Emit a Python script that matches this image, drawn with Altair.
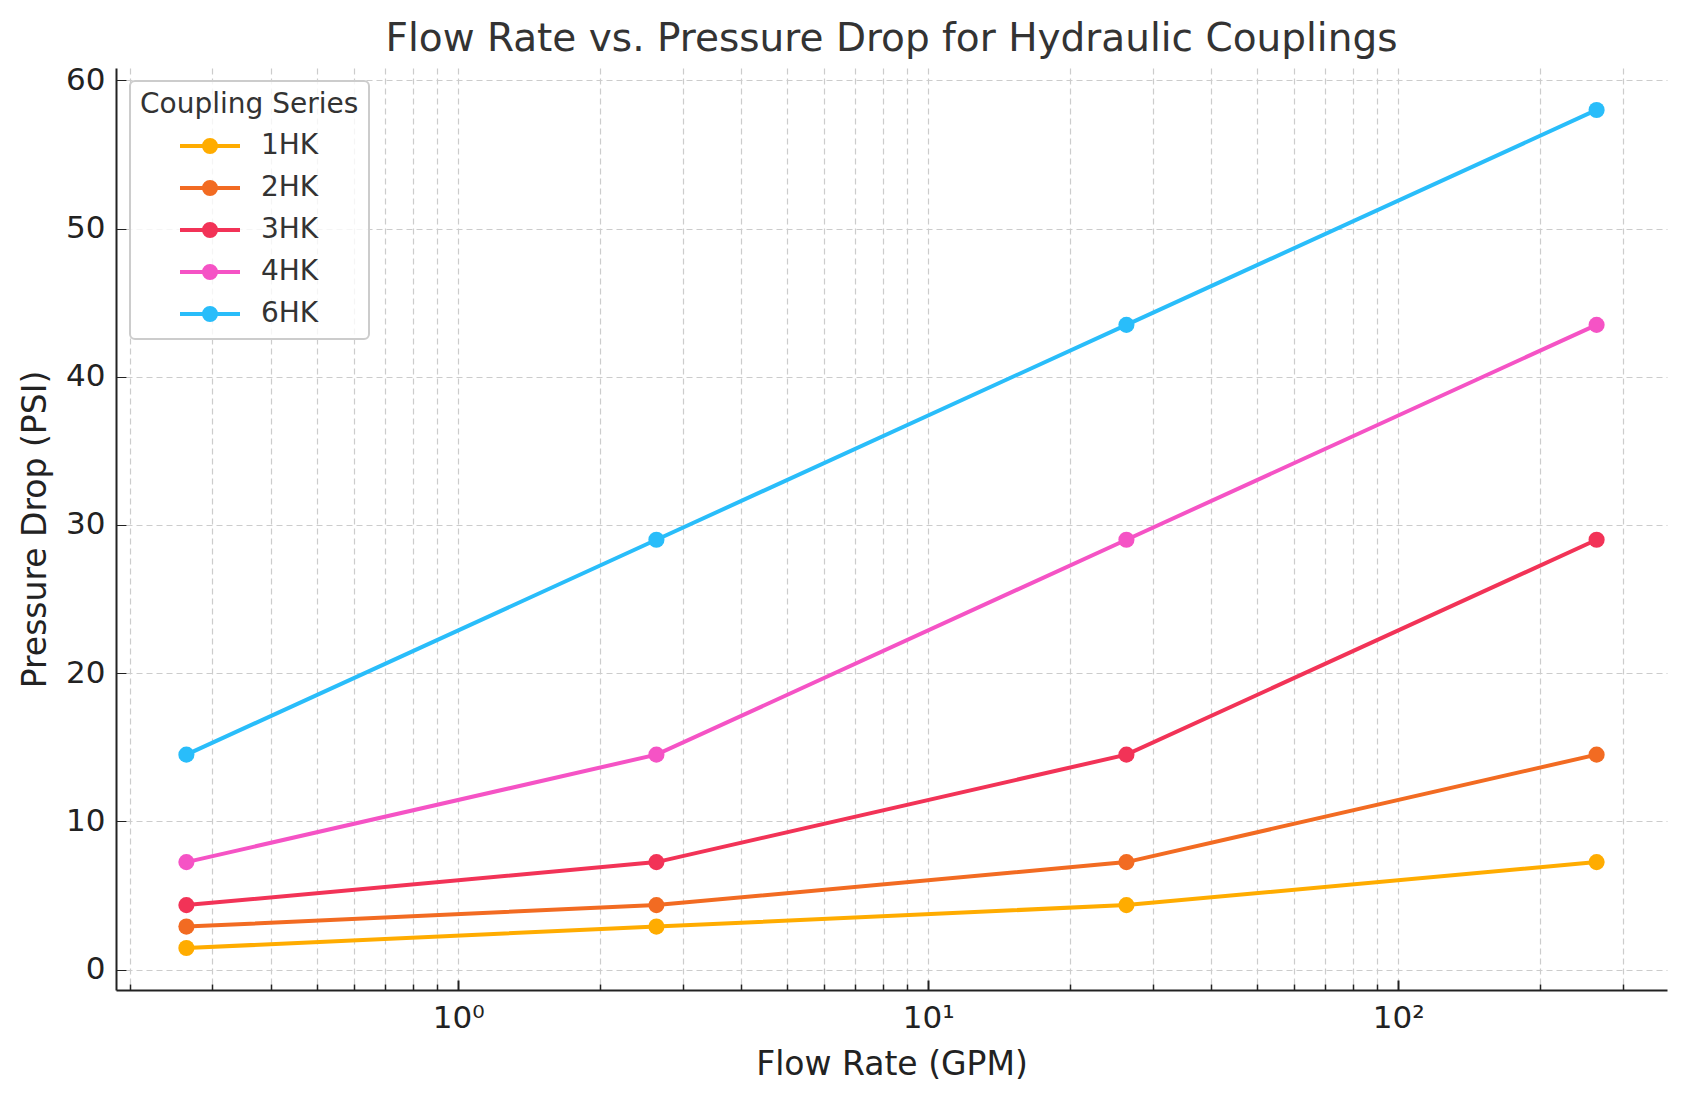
import altair as alt
import pandas as pd

# ---- data ----
series = ["1HK", "2HK", "3HK", "4HK", "6HK"]
flow_gpm = [0.264, 2.64, 26.4, 264.2]
psi_1hk = [1.45, 2.9, 4.35, 7.25]
psi_2hk = [2.9, 4.35, 7.25, 14.5]
psi_3hk = [4.35, 7.25, 14.5, 29.0]
psi_4hk = [7.25, 14.5, 29.0, 43.5]
psi_6hk = [14.5, 29.0, 43.5, 58.0]
colors = ["#FFAC00", "#F26B22", "#F23357", "#F553C5", "#29BDFA"]

major_x = [1, 10, 100]
minor_x = [0.2, 0.3, 0.4, 0.5, 0.6, 0.7, 0.8, 0.9,
           2, 3, 4, 5, 6, 7, 8, 9,
           20, 30, 40, 50, 60, 70, 80, 90,
           200, 300]
y_ticks = [0, 10, 20, 30, 40, 50, 60]

rows = []
for name, vals in zip(series, [psi_1hk, psi_2hk, psi_3hk, psi_4hk, psi_6hk]):
    for f, p in zip(flow_gpm, vals):
        rows.append({"series": name, "flow": f, "psi": p})
df = pd.DataFrame(rows)

FONT = "DejaVu Sans"
is_major = "(datum.value == 1 || datum.value == 10 || datum.value == 100)"

x_enc = alt.X(
    "flow:Q",
    title="Flow Rate (GPM)",
    scale=alt.Scale(type="log", domain=[0.187, 373], nice=False),
    axis=alt.Axis(
        values=major_x + minor_x,
        labelExpr="datum.value == 1 ? '10\u2070' : datum.value == 10 ? '10\u00b9' : datum.value == 100 ? '10\u00b2' : ''",
        labelOverlap=False,
        tickSize=alt.ExprRef(expr=is_major + " ? -10 : -6"),
        tickWidth=alt.ExprRef(expr=is_major + " ? 2 : 1.5"),
        labelPadding=23.5,
        titlePadding=11,
    ),
)

y_enc = alt.Y(
    "psi:Q",
    title="Pressure Drop (PSI)",
    scale=alt.Scale(domain=[-1.38, 60.83], nice=False, zero=False),
    axis=alt.Axis(
        values=y_ticks,
        tickSize=alt.ExprRef(expr="-10"),
        labelPadding=21,
        titlePadding=13,
    ),
)

legend_path = ("M-1.579,0L1.579,0"
               "M-0.316,0A0.316,0.316,0,1,1,0.316,0A0.316,0.316,0,1,1,-0.316,0"
               "M-0.105,0A0.105,0.105,0,1,1,0.105,0A0.105,0.105,0,1,1,-0.105,0")

color_enc = alt.Color(
    "series:N",
    scale=alt.Scale(domain=series, range=colors),
    legend=alt.Legend(
        title="Coupling Series",
        orient="none",
        legendX=14,
        legendY=13,
        symbolType=legend_path,
        symbolSize=1444,
        symbolStrokeWidth=4,
        symbolOpacity=1,
        symbolOffset=49,
        labelOffset=30,
        rowPadding=6,
        titlePadding=6,
        titleLimit=500,
        titleFont=FONT,
        titleFontSize=28,
        titleFontWeight="normal",
        titleColor="#333333",
        labelFont=FONT,
        labelFontSize=28,
        labelColor="#333333",
    ),
)

base = alt.Chart(df)
lines = base.mark_line(strokeWidth=4).encode(x=x_enc, y=y_enc, color=color_enc)
points = base.mark_point(filled=True, size=260, opacity=1).encode(
    x=x_enc, y=y_enc,
    color=alt.Color("series:N", scale=alt.Scale(domain=series, range=colors), legend=None),
)

chart = (
    alt.layer(lines, points)
    .properties(
        width=1551,
        height=922,
        padding={"left": 108, "top": 60, "right": 11, "bottom": 101},
        autosize=alt.AutoSizeParams(type="none"),
        title=alt.TitleParams(
            "Flow Rate vs. Pressure Drop for Hydraulic Couplings",
            fontSize=39,
            font=FONT,
            color="#333333",
            fontWeight="normal",
            anchor="middle",
            baseline="alphabetic",
            offset=15,
            dy=41,
        ),
    )
    .configure_axis(
        domainColor="#222222",
        domainWidth=2,
        tickColor="#222222",
        labelColor="#222222",
        labelFont=FONT,
        labelFontSize=31,
        titleFont=FONT,
        titleFontSize=33,
        titleFontWeight="normal",
        titleColor="#222222",
        grid=True,
        gridColor="#cccccc",
        gridDash=[6, 4],
        gridWidth=1.2,
    )
    .configure_legend(
        fillColor="rgba(255,255,255,0.8)",
        strokeColor="#cccccc",
        strokeWidth=2,
        cornerRadius=5,
        padding=10,
    )
    .configure_view(stroke="transparent")
)

chart.save("out.html", embed_options={"renderer": "svg", "actions": False})
